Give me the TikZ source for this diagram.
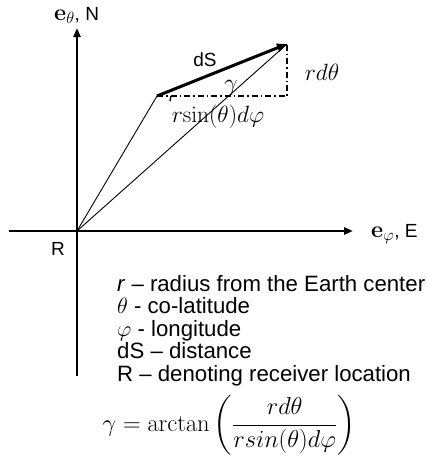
\RequirePackage{fix-cm}
\documentclass[tikz,border=0pt]{standalone}
\usepackage{amsmath}
\usepackage[no-math]{fontspec}
\setmainfont{Liberation Sans}
\usetikzlibrary{arrows.meta,calc}
\newcommand{\mathsz}{\fontsize{23.5}{26}\selectfont}
\newcommand{\textsz}{\fontsize{19}{22}\selectfont}
\begin{document}
\begin{tikzpicture}[x=1pt,y=-1pt,
  axis/.style={line width=2.4pt,-{Triangle[length=9pt,width=7pt]}},
  thin/.style={line width=0.9pt},
  dsarrow/.style={line width=3pt,-{Triangle[length=10pt,width=8pt]}},
  dashdot/.style={line width=1.5pt,dash pattern=on 6pt off 3pt on 1.5pt off 3pt},
  lbl/.style={inner sep=0pt,font=\textsz},
  mlbl/.style={inner sep=0pt,font=\mathsz},
  leg/.style={inner sep=0pt,anchor=base west,font=\fontsize{22.2}{25}\selectfont}]
\useasboundingbox (0,0) rectangle (427,464);
\coordinate (O) at (77,231);
\coordinate (A) at (157,96);
\coordinate (B) at (287,44);
\coordinate (C) at (287,96);
\coordinate (ytop) at (77,28);
\coordinate (ybot) at (77,376);
\coordinate (xl) at (9,231);
\coordinate (xr) at (353,231);
\draw[axis] (ybot) -- (ytop);
\draw[axis] (xl) -- (xr);
\draw[thin] (O) -- (A);
\draw[thin] (O) -- (B);
\draw[dashdot] (A) -- (C) -- (B);
\draw[dsarrow] (A) -- (B);
\draw[line width=1.3pt] ($(A)+(14,0)$) arc[start angle=0,end angle=21.8,radius=14];
\node[mlbl,anchor=base west] (eth) at (54,20) {$\mathbf{e}_\theta$\textsz, N};
\node[mlbl,anchor=base west] (ephi) at (371,237) {$\mathbf{e}_\varphi$\textsz, E};
\node[lbl] (R) at (58,249) {R};
\node[lbl] (dS) at (205,60) {dS};
\node[mlbl] (gam) at (231,88) {$\gamma$};
\node[mlbl] (rdth) at (322,72) {$rd\theta$};
\node[mlbl] (rsin) at (218,117) {$r\mathrm{sin}(\theta)d\varphi$};
\node[leg] (l1) at (117,291) {\textit{r} -- radius from the Earth center};
\node[leg] (l2) at (117,313.5) {$\theta$ - co-latitude};
\node[leg] (l3) at (117,336) {$\varphi$ - longitude};
\node[leg] (l4) at (117,358.5) {dS -- distance};
\node[leg] (l5) at (117,381) {R -- denoting receiver location};
\node[inner sep=0pt,font=\fontsize{24.5}{28}\selectfont] (form) at (229,425) {$\gamma = \arctan\left(\dfrac{rd\theta}{rsin(\theta)d\varphi}\right)$};
\end{tikzpicture}
\end{document}
